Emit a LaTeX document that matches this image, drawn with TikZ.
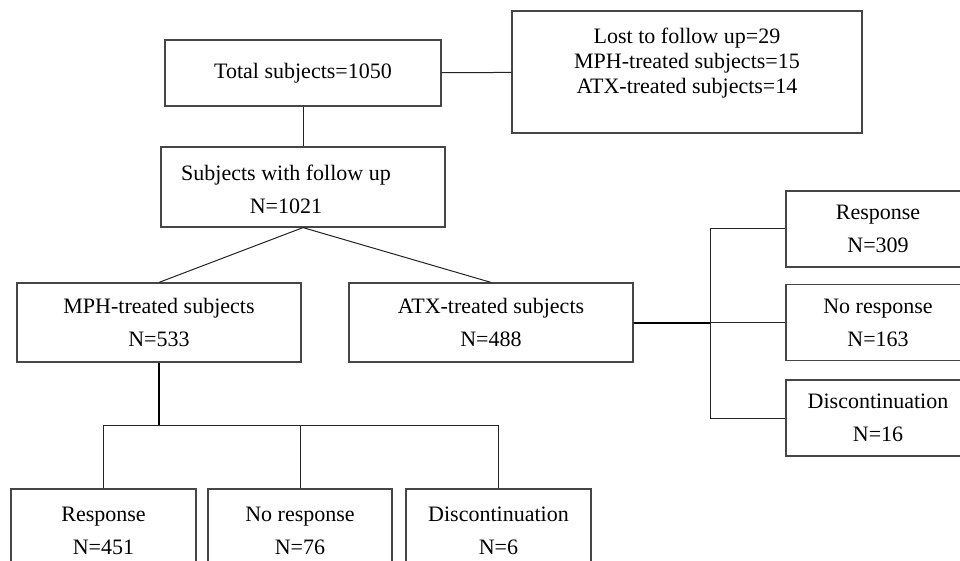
\documentclass[tikz,border=0pt]{standalone}
\usepackage{fontspec}
\setmainfont{Liberation Serif}
\usetikzlibrary{positioning,calc}
\definecolor{boxline}{RGB}{70,70,70}
\definecolor{linkline}{RGB}{35,35,35}

\begin{document}
\begin{tikzpicture}[
  x=1pt, y=-1pt,
  every node/.style={font=\fontsize{22}{33}\selectfont}
]
  % Styles
  \tikzstyle{flowbox} = [rectangle, draw=boxline, line width=1.2pt, fill=white, align=center, inner sep=0pt]
  \tikzstyle{leafbox} = [flowbox, minimum width=184pt, minimum height=76pt]
  \tikzstyle{link} = [draw=linkline, line width=1pt]
  \tikzstyle{heavylink} = [draw=black, line width=2pt]

  \useasboundingbox (0,0) rectangle (960,561);
  \clip (0,0) rectangle (960,561);

  % Top
  \node[flowbox, minimum width=276pt, minimum height=66pt] (total) at (303,73) {Total subjects=1050};
  \node[flowbox, minimum width=350pt, minimum height=122pt] (lost) at (687,72) {};
  \node[font=\fontsize{22}{25}\selectfont, align=center] (losttext) at (687,63) {Lost to follow up=29\\MPH-treated subjects=15\\ATX-treated subjects=14};
  \node[flowbox, minimum width=284pt, minimum height=80pt] (follow) at (303,187) {};
  \node[align=center] (followtext) at (286,189) {Subjects with follow up\\N=1021};

  % Treatment groups
  \node[flowbox, minimum width=284pt, minimum height=79pt] (mph) at (159,322.5) {MPH-treated subjects\\N=533};
  \node[flowbox, minimum width=284pt, minimum height=79pt] (atx) at (491,322.5) {ATX-treated subjects\\N=488};

  % MPH outcomes
  \node[leafbox, minimum width=185pt, minimum height=84pt] (mresp) at (103.5,531) {Response\\N=451};
  \node[leafbox, minimum height=84pt] (mnoresp) at (300,531) {No response\\N=76};
  \node[leafbox, minimum width=185pt, minimum height=84pt] (mdisc) at (498.5,531) {Discontinuation\\N=6};

  % ATX outcomes
  \node[leafbox] (aresp) at (878,229) {Response\\N=309};
  \node[leafbox] (anoresp) at (878,322.5) {No response\\N=163};
  \node[leafbox] (adisc) at (878,418) {Discontinuation\\N=16};

  % Links
  \draw[link] (total) -- (lost);
  \draw[link] (total) -- (follow);
  \draw[link] (mph.north) -- (follow.south) -- (atx.north);

  \coordinate (mphbar) at ($(mph.south)+(0,63)$);
  \draw[heavylink] (mph.south) -- (mphbar);
  \draw[link] (mresp.north) |- (mphbar) -| (mdisc.north);
  \draw[link] (mnoresp.north) -- (mnoresp.north |- mphbar);

  \coordinate (atxbar) at ($(atx.east)+(77,0)$);
  \draw[heavylink] (atx.east) -- (atxbar);
  \draw[link] (aresp.west) -| (atxbar) |- (adisc.west);
  \draw[link] (atxbar) -- (anoresp.west);
\end{tikzpicture}
\end{document}
